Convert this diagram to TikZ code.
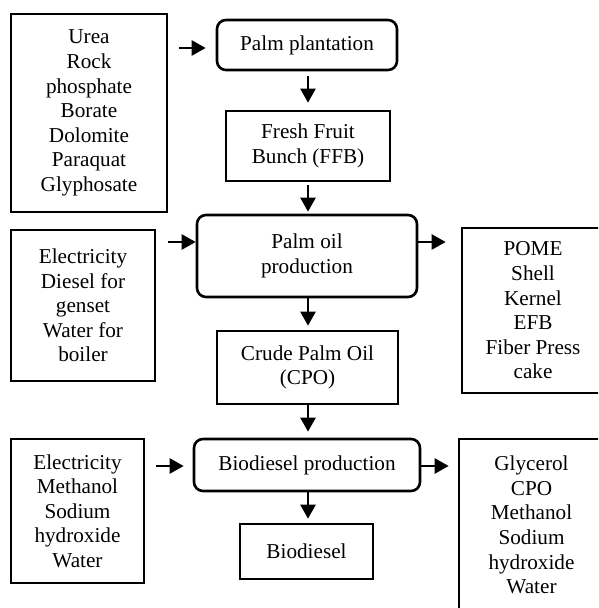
\documentclass[tikz,border=0pt]{standalone}
\usepackage{fontspec}
\setmainfont{Liberation Serif}
\usetikzlibrary{arrows.meta}
\tikzset{
  box/.style={draw, line width=1.3pt, inner sep=0pt, align=center,
    font=\fontsize{10.6}{12.3}\selectfont},
  rbox/.style={box, rounded corners=4.5pt},
  arr/.style={line width=1.2pt, -{Triangle[length=7pt,width=7.5pt]}}
}
\begin{document}
\begin{tikzpicture}[x=0.5pt,y=-0.5pt]
\useasboundingbox (0,0) rectangle (598,608);
\clip (0,0) rectangle (598,608);
% boxes
\node[box, minimum width=78pt, minimum height=99pt] (urea) at (89,113)
  {Urea\\Rock\\phosphate\\Borate\\Dolomite\\Paraquat\\Glyphosate};
\node[rbox, minimum width=90pt, minimum height=25pt] (plant) at (307,45) {Palm plantation};
\node[box, minimum width=82pt, minimum height=35pt] (ffb) at (308,146) {Fresh Fruit\\Bunch (FFB)};
\node[box, minimum width=72pt, minimum height=75.5pt] (elec1) at (83,305.5)
  {Electricity\\Diesel for\\genset\\Water for\\boiler};
\node[rbox, minimum width=110pt, minimum height=41pt] (pop) at (307,256) {Palm oil\\production};
\node[box, minimum width=71pt, minimum height=82.5pt] (pome) at (533,310.5)
  {POME\\Shell\\Kernel\\EFB\\Fiber Press\\cake};
\node[box, minimum width=90.5pt, minimum height=36.5pt] (cpo) at (307.5,367.5) {Crude Palm Oil\\(CPO)};
\node[box, minimum width=66.5pt, minimum height=72pt] (elec2) at (77.5,511)
  {Electricity\\Methanol\\Sodium\\hydroxide\\Water};
\node[rbox, minimum width=113pt, minimum height=26pt] (bp) at (307,465) {Biodiesel production};
\node[box, minimum width=72.5pt, minimum height=86pt] (glyc) at (531.5,525)
  {Glycerol\\CPO\\Methanol\\Sodium\\hydroxide\\Water};
\node[box, minimum width=66.5pt, minimum height=27.5pt] (bio) at (306.5,551.5) {Biodiesel};
% helper coordinates for arrow heights / columns
\coordinate (r1) at (0,48);
\coordinate (r2) at (0,242);
\coordinate (r3) at (0,466);
\coordinate (c1) at (308,0);
% connectors
\draw[arr, shorten <=5.5pt, shorten >=5pt] (urea.east |- r1) -- (plant.west |- r1);
\draw[arr, shorten <=2.5pt, shorten >=3.5pt] (plant.south -| c1) -- (ffb.north -| c1);
\draw[arr, shorten <=1.5pt, shorten >=1pt] (ffb.south -| c1) -- (pop.north -| c1);
\draw[arr, shorten <=6pt] (elec1.east |- r2) -- (pop.west |- r2);
\draw[arr, shorten >=7.5pt] (pop.east |- r2) -- (pome.west |- r2);
\draw[arr, shorten >=2pt] (pop.south -| c1) -- (cpo.north -| c1);
\draw[arr, shorten >=3pt] (cpo.south -| c1) -- (bp.north -| c1);
\draw[arr, shorten <=5.5pt, shorten >=4.5pt] (elec2.east |- r3) -- (bp.west |- r3);
\draw[arr, shorten >=4.5pt] (bp.east |- r3) -- (glyc.west |- r3);
\draw[arr, shorten >=2pt] (bp.south -| c1) -- (bio.north -| c1);
\end{tikzpicture}
\end{document}
